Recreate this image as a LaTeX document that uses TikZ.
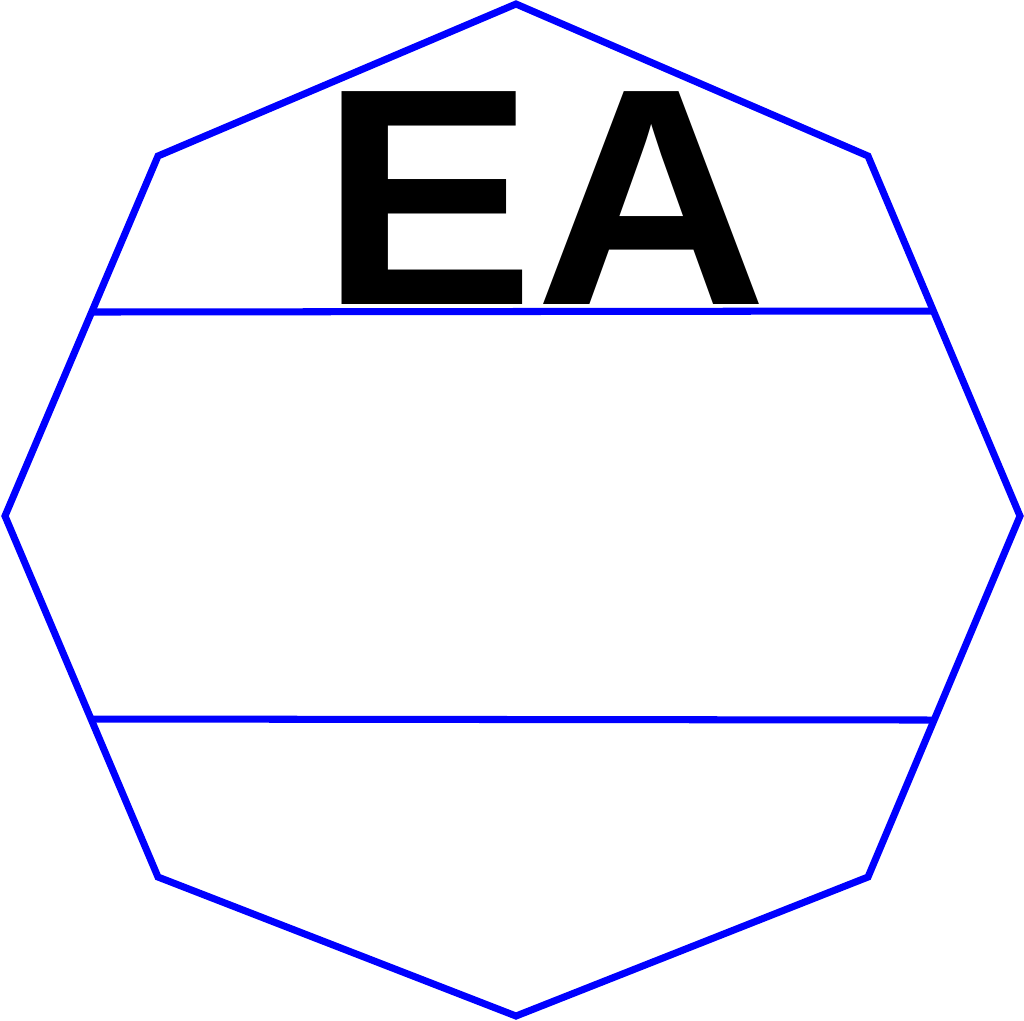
\documentclass[tikz,border=0pt]{standalone}
\usepackage{fontspec}
\setmainfont{Liberation Sans}
\usetikzlibrary{positioning}
\tikzset{
  edge/.style={draw=blue, line width=2pt, line join=miter},
  bandline/.style={draw=blue, line width=2pt},
  lbl/.style={font=\bfseries\fontsize{88}{88}\selectfont, text=black, inner sep=0pt, anchor=base},
}
\begin{document}
\begin{tikzpicture}[x=0.01cm, y=-0.01cm]
  \useasboundingbox (0,0) rectangle (1024,1020);
  % outline
  \coordinate (t) at (516,4);
  \coordinate (tl) at (158,156);
  \coordinate (l) at (5,516);
  \coordinate (bl) at (158,877);
  \coordinate (b) at (516,1016);
  \coordinate (br) at (868,877);
  \coordinate (r) at (1020,516);
  \coordinate (tr) at (868,156);
  \draw[edge] (t) -- (tl) -- (l) -- (bl) -- (b) -- (br) -- (r) -- (tr) -- cycle;
  % bands
  \coordinate (ua) at (92,312);
  \coordinate (ub) at (932,311);
  \coordinate (la) at (92,719);
  \coordinate (lb) at (932,720);
  \draw[bandline] (ua) -- (ub);
  \draw[bandline] (la) -- (lb);
  \node[lbl, xscale=1.04] (ea) at (544,304) {EA};
\end{tikzpicture}
\end{document}
